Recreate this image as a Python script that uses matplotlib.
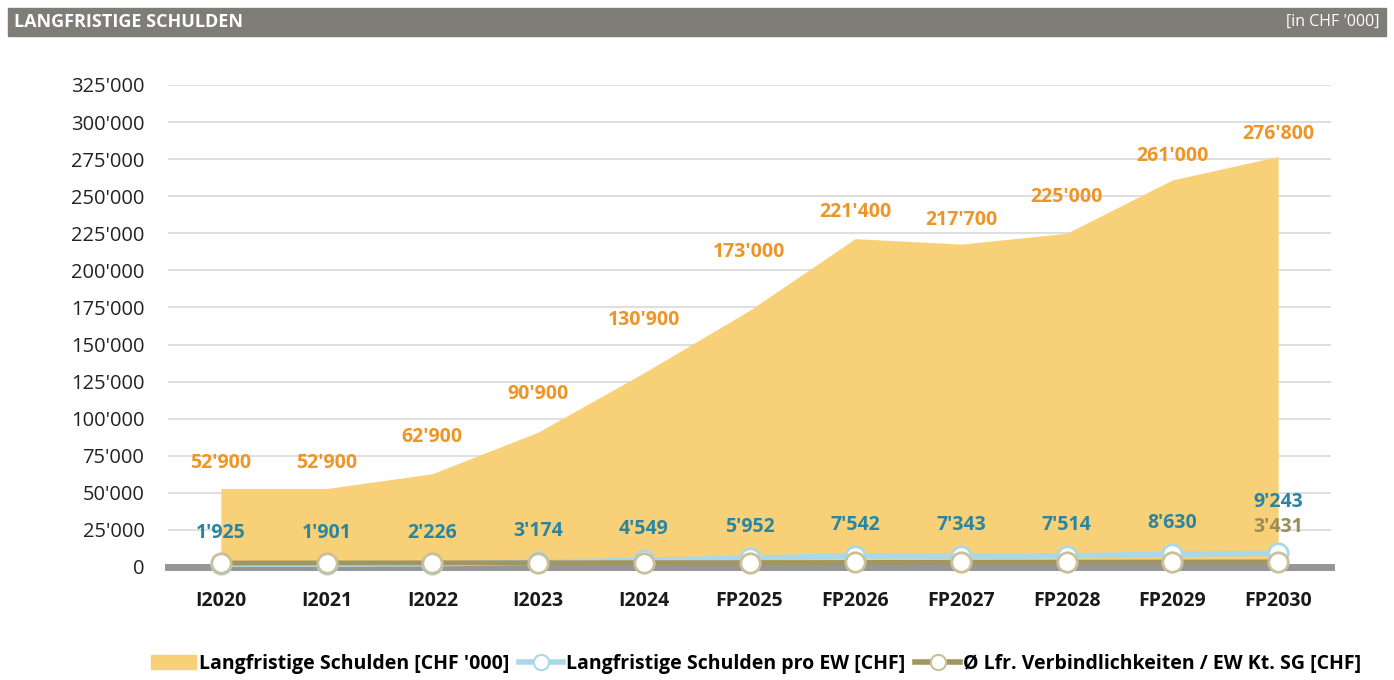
import matplotlib
matplotlib.use('Agg')
import matplotlib.pyplot as plt
from matplotlib.patches import Rectangle, Patch
from matplotlib.lines import Line2D
from matplotlib.ticker import FuncFormatter

years = ['I2020', 'I2021', 'I2022', 'I2023', 'I2024', 'FP2025', 'FP2026',
         'FP2027', 'FP2028', 'FP2029', 'FP2030']
schulden = [52900, 52900, 62900, 90900, 130900, 173000, 221400, 217700,
            225000, 261000, 276800]
pro_ew = [1925, 1901, 2226, 3174, 4549, 5952, 7542, 7343, 7514, 8630, 9243]
kt_sg = [2700, 2750, 2800, 2850, 2900, 2950, 3050, 3150, 3250, 3350, 3431]

# label offsets above the area (points), Excel puts them a bit irregularly
area_lbl_dy = [11, 11, 19, 20, 31, 35, 12, 10, 19, 10, 9]

AREA = '#f8d077'
ORANGE = '#ee9527'
TEAL = '#2a86a0'
LIGHTBLUE = '#a9d9e8'
OLIVE = '#a39560'
OLIVE_TXT = '#9a8c55'

plt.rcParams['font.family'] = ['Open Sans', 'DejaVu Sans']


def fmt(v, pos=None):
    return '{:,}'.format(int(v)).replace(',', "'")


fig = plt.figure(figsize=(13.94, 6.8), dpi=100)
ax = fig.add_axes([168 / 1394, 1 - 567 / 680, (1331 - 168) / 1394, (567 - 85) / 680])

x = list(range(len(years)))

ax.fill_between(x, 0, schulden, color=AREA, linewidth=0, zorder=1)
ax.axhline(0, color='#969696', lw=5, zorder=2, clip_on=False)

ax.plot(x, kt_sg, color=OLIVE, lw=3.5, marker='o', ms=14, mfc='white',
        mec='#c9bf98', mew=2, zorder=4, clip_on=False)
ax.plot(x, pro_ew, color=LIGHTBLUE, lw=4, marker='o', ms=14, mfc='white',
        mec=LIGHTBLUE, mew=2, zorder=3, clip_on=False)

for i, v in enumerate(schulden):
    ax.annotate(fmt(v), (i, v), xytext=(0, area_lbl_dy[i]), textcoords='offset points',
                ha='center', va='bottom', color=ORANGE, fontsize=14,
                fontweight='bold', zorder=6)

for i, v in enumerate(pro_ew):
    dy = 15 if i < len(pro_ew) - 1 else 30
    ax.annotate(fmt(v), (i, v), xytext=(0, dy), textcoords='offset points',
                ha='center', va='bottom', color=TEAL, fontsize=14,
                fontweight='bold', zorder=6)

ax.annotate(fmt(kt_sg[-1]), (len(kt_sg) - 1, kt_sg[-1]), xytext=(0, 18),
            textcoords='offset points', ha='center', va='bottom',
            color=OLIVE_TXT, fontsize=14, fontweight='bold', zorder=6)

ax.set_xlim(-0.5, len(years) - 0.5)
ax.set_ylim(0, 325000)
ax.set_yticks(range(0, 325001, 25000))
ax.yaxis.set_major_formatter(FuncFormatter(fmt))
ax.set_xticks(x)
ax.set_xticklabels(years, fontweight='bold', fontsize=14, color='#1a1a1a')
ax.tick_params(axis='x', length=0, pad=17)
ax.tick_params(axis='y', length=0, pad=17, labelsize=14.5, labelcolor='#222222')
ax.grid(axis='y', color='#d9d9d9', lw=1.2, zorder=0)
ax.set_axisbelow(True)
for s in ax.spines.values():
    s.set_visible(False)

# header bar
fig.patches.append(Rectangle((8 / 1394, 1 - 36 / 680), 1378 / 1394, 28 / 680,
                             transform=fig.transFigure, color='#7f7d78', zorder=0))
fig.text(14 / 1394, 1 - 22 / 680, 'LANGFRISTIGE SCHULDEN', color='white',
         fontsize=13, fontweight='bold', va='center', ha='left')
fig.text(1380 / 1394, 1 - 22 / 680, "[in CHF '000]", color='white',
         fontsize=11.5, va='center', ha='right')

handles = [
    Patch(color=AREA),
    Line2D([], [], color=LIGHTBLUE, lw=4, marker='o', ms=11, mfc='white', mec=LIGHTBLUE, mew=1.5),
    Line2D([], [], color=OLIVE, lw=4, marker='o', ms=11, mfc='white', mec='#c9bf98', mew=1.5),
]
labels = ["Langfristige Schulden [CHF '000]", 'Langfristige Schulden pro EW [CHF]',
          'Ø Lfr. Verbindlichkeiten / EW Kt. SG [CHF]']
leg = fig.legend(handles, labels, loc='center', bbox_to_anchor=(756 / 1394, 1 - 664 / 680),
                 ncol=3, frameon=False, handlelength=2.3, handletextpad=0.15,
                 columnspacing=0.5, prop={'weight': 'bold', 'size': 14})

fig.savefig('out.png', dpi=100)
